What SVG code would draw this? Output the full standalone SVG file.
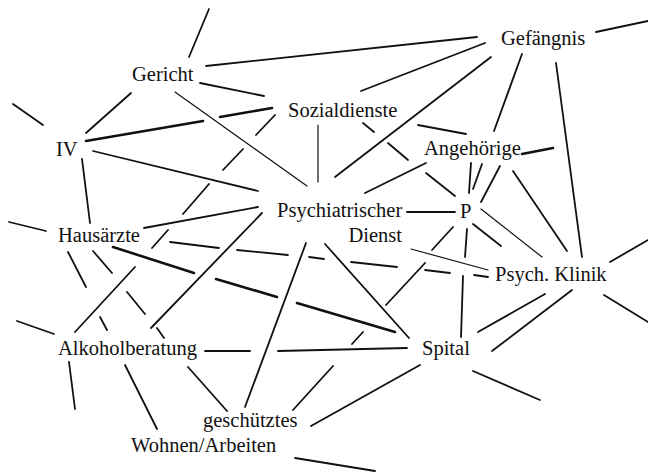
<svg xmlns="http://www.w3.org/2000/svg" width="648" height="474" viewBox="0 0 648 474">
<style>
.bg{fill:#ffffff}
.lbl{font-family:"Liberation Serif","Times New Roman",serif;font-size:20.5px;fill:#111}
.c{fill:none;stroke:#111;stroke-width:1.8;stroke-linecap:round}
.thick{stroke-width:2.6}
.thin{stroke-width:1.2}
</style>
<rect class="bg" x="0" y="0" width="648" height="474"/>
<g id="connectors">
<path class="c" d="M209,9 L189,57"/>
<path class="c" d="M206,66 L477,37"/>
<path class="c" d="M200,83 L264,96"/>
<path class="c" d="M131,93 L86,133"/>
<path class="c thin" d="M175,92 L307,186"/>
<path class="c" d="M13,104 L43,125"/>
<path class="c thick" d="M86,141 L203,121 M220,117 L272,108"/>
<path class="c" d="M93,151 L258,191"/>
<path class="c" d="M82,159 L90,223"/>
<path class="c" d="M275,115 L256,135 M243,149 L223,170 M209,184 L183,214 M168,230 L152,248 M135,267 L75,332"/>
<path class="c thin" d="M318,125 L318,182"/>
<path class="c" d="M144,228 L258,207"/>
<path class="c" d="M9,222 L46,231"/>
<path class="c" d="M262,213 L151,328"/>
<path class="c" d="M596,32 L648,21"/>
<path class="c" d="M485,43 L361,91"/>
<path class="c" d="M491,57 L335,177"/>
<path class="c" d="M522,54 L494,131"/>
<path class="c" d="M556,63 L582,257"/>
<path class="c" d="M418,125 L466,134"/>
<path class="c" d="M363,123 L374,132 M388,143 L408,160 M426,173 L455,196"/>
<path class="c thick" d="M522,154 L553,148"/>
<path class="c" d="M426,163 L365,193"/>
<path class="c" d="M471,163 L469,193"/>
<path class="c" d="M482,164 L473,189"/>
<path class="c" d="M500,166 L481,202"/>
<path class="c" d="M513,171 L567,251"/>
<path class="c" d="M407,212 L455,212"/>
<path class="c thin" d="M481,209 L542,257"/>
<path class="c" d="M473,224 L501,246"/>
<path class="c" d="M453,227 L432,250 M425,263 L386,305 M363,332 L352,344 M333,366 L293,410"/>
<path class="c" d="M467,229 L465,257 M463,276 L461,337"/>
<path class="c thin" d="M411,249 L488,270"/>
<path class="c" d="M170,242 L219,248 M237,250 L288,255 M309,257 L324,259 M351,262 L397,267 M425,270 L450,273 M474,275 L488,277"/>
<path class="c thick" d="M113,247 L194,273 M216,279 L277,297 M297,303 L395,332"/>
<path class="c" d="M325,244 L409,338"/>
<path class="c" d="M306,243 L245,407"/>
<path class="c" d="M205,351 L250,351 M278,351 L407,348"/>
<path class="c" d="M478,332 L545,294"/>
<path class="c" d="M492,351 L572,290"/>
<path class="c" d="M610,262 L648,240"/>
<path class="c" d="M604,295 L648,322"/>
<path class="c" d="M473,371 L540,400"/>
<path class="c" d="M420,365 L311,426"/>
<path class="c" d="M295,458 L375,471"/>
<path class="c" d="M68,252 L86,287 M100,317 L107,330"/>
<path class="c" d="M93,251 L112,273 M127,292 L145,314 M157,328 L164,338 M188,367 L227,411"/>
<path class="c" d="M17,321 L54,334"/>
<path class="c" d="M69,362 L75,409"/>
<path class="c" d="M125,365 L157,429"/>
</g>
<g id="gericht"><text class="lbl" x="132" y="81">Gericht</text></g>
<g id="gefaengnis"><text class="lbl" x="501" y="45">Gefängnis</text></g>
<g id="sozialdienste"><text class="lbl" x="288" y="117">Sozialdienste</text></g>
<g id="iv"><text class="lbl" x="56" y="156">IV</text></g>
<g id="angehoerige"><text class="lbl" x="424" y="155">Angehörige</text></g>
<g id="psychiatrischer-dienst"><text class="lbl" x="277" y="217">Psychiatrischer</text><text class="lbl" x="402" y="242" text-anchor="end">Dienst</text></g>
<g id="p"><text class="lbl" x="460" y="218">P</text></g>
<g id="hausaerzte"><text class="lbl" x="58" y="242">Hausärzte</text></g>
<g id="psych-klinik"><text class="lbl" x="495" y="281">Psych. Klinik</text></g>
<g id="alkoholberatung"><text class="lbl" x="58" y="355">Alkoholberatung</text></g>
<g id="spital"><text class="lbl" x="422" y="355">Spital</text></g>
<g id="geschuetztes-wohnen"><text class="lbl" x="203" y="427">geschütztes</text><text class="lbl" x="131" y="452">Wohnen/Arbeiten</text></g>
</svg>
